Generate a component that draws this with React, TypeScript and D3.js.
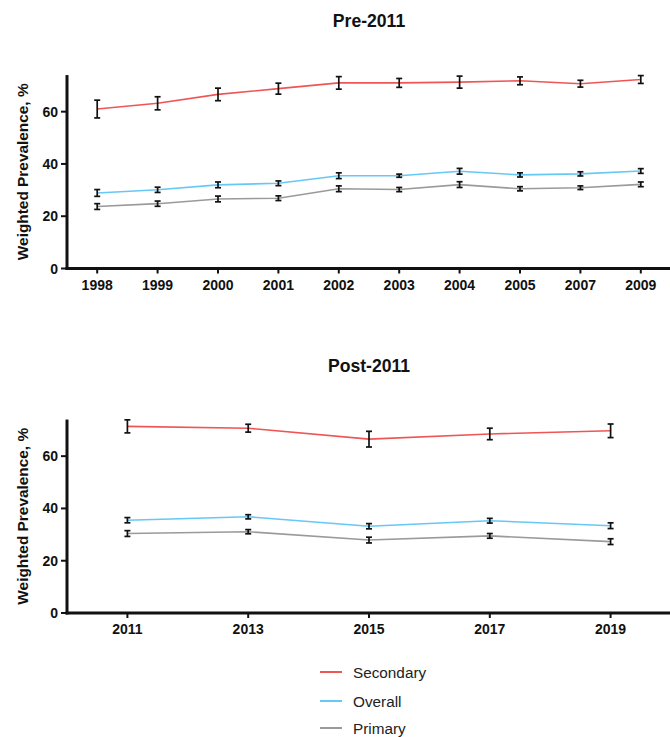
import React from "react";
import * as d3 from "d3";

const preYears = ["1998", "1999", "2000", "2001", "2002", "2003", "2004", "2005", "2007", "2009"];
const preSecondary = [61.0, 63.2, 66.6, 68.8, 71.0, 71.0, 71.3, 71.8, 70.7, 72.3];
const preSecondaryErr = [3.4, 2.5, 2.4, 2.1, 2.4, 1.7, 2.3, 1.5, 1.3, 1.5];
const preOverall = [28.9, 30.1, 32.0, 32.6, 35.5, 35.5, 37.2, 35.8, 36.2, 37.3];
const preOverallErr = [1.3, 1.0, 1.1, 0.9, 1.1, 0.6, 1.1, 0.8, 0.8, 0.9];
const prePrimary = [23.7, 24.8, 26.6, 26.9, 30.5, 30.2, 32.1, 30.5, 30.9, 32.2];
const prePrimaryErr = [1.1, 1.0, 1.1, 0.9, 1.1, 0.8, 1.1, 0.8, 0.7, 0.9];

const postYears = ["2011", "2013", "2015", "2017", "2019"];
const postSecondary = [71.4, 70.7, 66.5, 68.5, 69.7];
const postSecondaryErr = [2.5, 1.5, 3.0, 2.2, 2.6];
const postOverall = [35.5, 36.8, 33.2, 35.3, 33.4];
const postOverallErr = [1.0, 0.8, 1.0, 0.9, 1.1];
const postPrimary = [30.4, 31.1, 27.9, 29.5, 27.3];
const postPrimaryErr = [1.1, 0.8, 1.1, 0.9, 1.1];

const yTicks = [0, 20, 40, 60];
const seriesNames = ["Secondary", "Overall", "Primary"];
const seriesColors = ["#f05555", "#66c8f5", "#9a9a9a"];

const FONT = "Arial, 'Liberation Sans', Helvetica, sans-serif";

type Series = { name: string; color: string; values: number[]; errs: number[] };

function Panel({
  title,
  titleY,
  years,
  series,
  y0,
}: {
  title: string;
  titleY: number;
  years: string[];
  series: Series[];
  y0: number;
}) {
  const x = d3.scalePoint<string>().domain(years).range([67, 671]).padding(0.5);
  const y = d3.scaleLinear().domain([0, 74]).range([y0, y0 - 74 * 2.614]);
  const line = d3
    .line<number>()
    .x((_, i) => x(years[i])!)
    .y((d) => y(d));
  const axisX = 67;
  const top = y(74);
  return (
    <g>
      <text x={369} y={titleY} textAnchor="middle" fontFamily={FONT} fontWeight="bold" fontSize={17.6} fill="#111">
        {title}
      </text>
      {series.map((s) => (
        <path key={s.name} d={line(s.values)!} fill="none" stroke={s.color} strokeWidth={1.6} />
      ))}
      {series.map((s) =>
        s.values.map((v, i) => {
          const cx = x(years[i])!;
          const y1 = y(v + s.errs[i]);
          const y2 = y(v - s.errs[i]);
          return (
            <g key={s.name + i} stroke="#111" strokeWidth={1.7}>
              <line x1={cx} x2={cx} y1={y1} y2={y2} />
              <line x1={cx - 3} x2={cx + 3} y1={y1} y2={y1} />
              <line x1={cx - 3} x2={cx + 3} y1={y2} y2={y2} />
            </g>
          );
        })
      )}
      {/* axes */}
      <line x1={axisX} x2={axisX} y1={top} y2={y0 + 1.5} stroke="#111" strokeWidth={3} />
      <line x1={axisX - 1.5} x2={670} y1={y0} y2={y0} stroke="#111" strokeWidth={3} />
      {yTicks.map((t) => (
        <g key={t}>
          <line x1={axisX - 6} x2={axisX} y1={y(t)} y2={y(t)} stroke="#111" strokeWidth={2} />
          <text
            x={axisX - 9}
            y={y(t)}
            dy="0.36em"
            textAnchor="end"
            fontFamily={FONT}
            fontWeight="bold"
            fontSize={14}
            fill="#111"
          >
            {t}
          </text>
        </g>
      ))}
      {years.map((yr) => (
        <g key={yr}>
          <line x1={x(yr)!} x2={x(yr)!} y1={y0} y2={y0 + 5} stroke="#111" strokeWidth={2} />
          <text
            x={x(yr)!}
            y={y0 + 21}
            textAnchor="middle"
            fontFamily={FONT}
            fontWeight="bold"
            fontSize={14}
            fill="#111"
          >
            {yr}
          </text>
        </g>
      ))}
      <text
        transform={`translate(27.5,${(top + y0) / 2}) rotate(-90)`}
        textAnchor="middle"
        fontFamily={FONT}
        fontWeight="bold"
        fontSize={15.4}
        fill="#111"
      >
        Weighted Prevalence, %
      </text>
    </g>
  );
}

export default function App() {
  const pre: Series[] = [
    { name: seriesNames[0], color: seriesColors[0], values: preSecondary, errs: preSecondaryErr },
    { name: seriesNames[1], color: seriesColors[1], values: preOverall, errs: preOverallErr },
    { name: seriesNames[2], color: seriesColors[2], values: prePrimary, errs: prePrimaryErr },
  ];
  const post: Series[] = [
    { name: seriesNames[0], color: seriesColors[0], values: postSecondary, errs: postSecondaryErr },
    { name: seriesNames[1], color: seriesColors[1], values: postOverall, errs: postOverallErr },
    { name: seriesNames[2], color: seriesColors[2], values: postPrimary, errs: postPrimaryErr },
  ];
  const legendY = [672, 701, 728];
  return (
    <svg
      width={670}
      height={737}
      style={{ position: "absolute", left: 0, top: 0, background: "#fff" }}
    >
      <rect width={670} height={737} fill="#fff" />
      <Panel title="Pre-2011" titleY={27} years={preYears} series={pre} y0={268.5} />
      <Panel title="Post-2011" titleY={372} years={postYears} series={post} y0={613} />
      {seriesNames.map((n, i) => (
        <g key={n}>
          <line x1={320} x2={342} y1={legendY[i]} y2={legendY[i]} stroke={seriesColors[i]} strokeWidth={2} />
          <text x={353} y={legendY[i]} dy="0.36em" fontFamily={FONT} fontSize={15.3} fill="#222">
            {n}
          </text>
        </g>
      ))}
    </svg>
  );
}
